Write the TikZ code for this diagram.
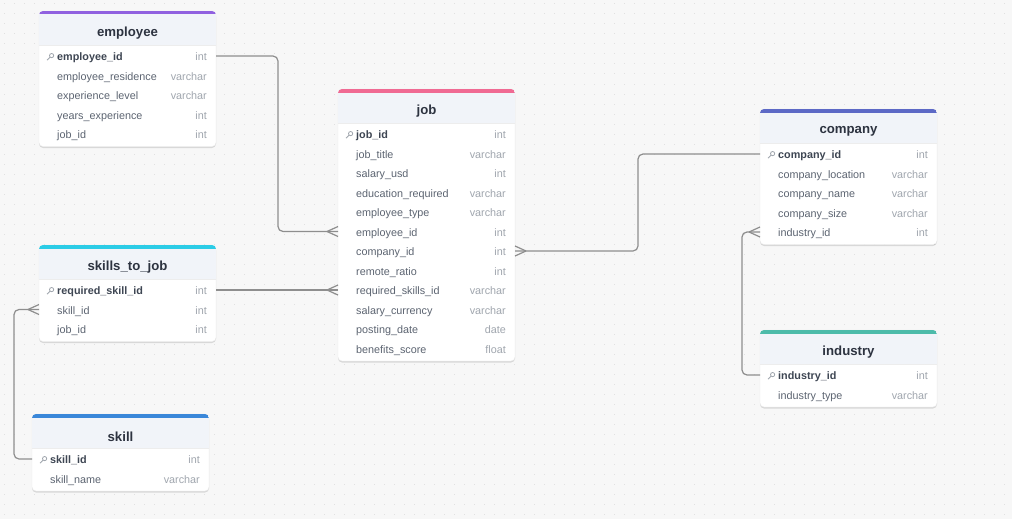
\documentclass[tikz,border=0pt]{standalone}
\usepackage{fontspec}
\setmainfont{Liberation Sans}
\usetikzlibrary{calc}
\usetikzlibrary{shadows}

\definecolor{canvas}{HTML}{F7F7F7}
\definecolor{griddot}{HTML}{E0E0E0}
\definecolor{headfill}{HTML}{F1F4F9}
\definecolor{titletext}{HTML}{2D3340}
\definecolor{keytext}{HTML}{3E4653}
\definecolor{rowtext}{HTML}{5C6471}
\definecolor{typetext}{HTML}{A0A6AE}
\definecolor{linkgray}{HTML}{8E8E8E}
\definecolor{empcolor}{HTML}{9061E0}
\definecolor{jobcolor}{HTML}{F06A93}
\definecolor{compcolor}{HTML}{5C69C6}
\definecolor{indcolor}{HTML}{4DBBAA}
\definecolor{sjcolor}{HTML}{2BCCE6}
\definecolor{skillcolor}{HTML}{3A87D9}

\tikzset{
  card/.style={fill=white, draw=black!8, rounded corners=4pt,
    drop shadow={shadow xshift=0pt, shadow yshift=-1.5pt, opacity=0.12, fill=black}},
  tabletitle/.style={font=\fontsize{13.2}{15}\selectfont\bfseries, text=titletext},
  field/.style={anchor=west, inner sep=0pt, font=\fontsize{10.8}{12}\selectfont,
    text=rowtext, text height=7.8pt, text depth=2.2pt},
  keyfield/.style={field, font=\fontsize{10.8}{12}\selectfont\bfseries, text=keytext},
  ftype/.style={anchor=east, inner sep=0pt, font=\fontsize{10.8}{12}\selectfont,
    text=typetext, text height=7.8pt, text depth=2.2pt},
  keyicon/.style={draw=typetext, line width=0.8pt},
  link/.style={draw=linkgray, line width=1.2pt, rounded corners=5pt},
}

% #1 name, #2 left, #3 top, #4 number of rows, #5 colour, #6 title, #7 rows
\newcommand{\ertable}[7]{
  \pgfmathsetmacro{\tb}{#3+45+(#4-1)*19.5+12.5}
  \path[card] (#2,#3) rectangle (#2+177,\tb);
  \begin{scope}
    \clip[rounded corners=4pt] (#2,#3) rectangle (#2+177,\tb);
    \fill[headfill] (#2,#3) rectangle (#2+177,#3+34.5);
    \fill[#5] (#2,#3) rectangle (#2+177,#3+3.5);
  \end{scope}
  \draw[black!7] (#2,#3+34.5) -- (#2+177,#3+34.5);
  \node[tabletitle] (#1-title) at (#2+88.5,#3+22.5) {#6};
  \foreach \fname/\ftyp [count=\i] in {#7} {
    \pgfmathsetmacro{\ry}{#3+45+(\i-1)*19.5}
    \coordinate (#1-\i-w) at (#2,\ry);
    \coordinate (#1-\i-e) at (#2+177,\ry);
    \ifnum\i=1
      \node[keyfield] (#1-\i) at (#2+18,\ry+1.8) {\fname};
      \draw[keyicon] (#2+12.6,\ry-0.4) circle (2.1pt);
      \draw[keyicon] (#2+11.1,\ry+1.1) -- (#2+8,\ry+4.2);
    \else
      \node[field] (#1-\i) at (#2+18,\ry+1.8) {\fname};
    \fi
    \node[ftype] (#1-\i-type) at (#2+168,\ry+1.8) {\ftyp};
  }
}

% #1 end point at the table, #2 offset of the meeting point
\newcommand{\crowfoot}[2]{
  \draw[link, rounded corners=0pt] ($(#1)+(#2,0)$) -- ($(#1)+(0,-5)$)
    ($(#1)+(#2,0)$) -- ($(#1)+(0,5)$);
}

\begin{document}
\begin{tikzpicture}[x=1pt, y=-1pt]
  \useasboundingbox (0,0) rectangle (1012,519);
  \fill[canvas] (0,0) rectangle (1012,519);
  \foreach \gy in {4,14,...,514} {
    \draw[griddot, line width=1pt, dash pattern=on 1pt off 9pt] (4,\gy) -- (1012,\gy);
  }

  % tables
  \ertable{employee}{39}{11}{5}{empcolor}{employee}{
    employee\_id/int, employee\_residence/varchar, experience\_level/varchar,
    years\_experience/int, job\_id/int}

  \ertable{job}{338}{89}{12}{jobcolor}{job}{
    job\_id/int, job\_title/varchar, salary\_usd/int, education\_required/varchar,
    employee\_type/varchar, employee\_id/int, company\_id/int, remote\_ratio/int,
    required\_skills\_id/varchar, salary\_currency/varchar, posting\_date/date,
    benefits\_score/float}

  \ertable{company}{760}{109}{5}{compcolor}{company}{
    company\_id/int, company\_location/varchar, company\_name/varchar,
    company\_size/varchar, industry\_id/int}

  \ertable{industry}{760}{330}{2}{indcolor}{industry}{
    industry\_id/int, industry\_type/varchar}

  \ertable{skills}{39}{245}{3}{sjcolor}{skills\_to\_job}{
    required\_skill\_id/int, skill\_id/int, job\_id/int}

  \ertable{skill}{32}{414}{2}{skillcolor}{skill}{
    skill\_id/int, skill\_name/varchar}

  % relations
  \draw[link] (employee-1-e) -- ++(62,0) |- (job-6-w);
  \crowfoot{job-6-w}{-11}
  \draw[link] (skills-1-e) -- (job-9-w);
  \crowfoot{job-9-w}{-11}
  \draw[link] (job-7-e) -- ++(123,0) |- (company-1-w);
  \crowfoot{job-7-e}{11}
  \draw[link] (company-5-w) -- ++(-18,0) |- (industry-1-w);
  \crowfoot{company-5-w}{-11}
  \draw[link] (skills-2-w) -- ++(-25,0) |- (skill-1-w);
  \crowfoot{skills-2-w}{-11}
\end{tikzpicture}
\end{document}
